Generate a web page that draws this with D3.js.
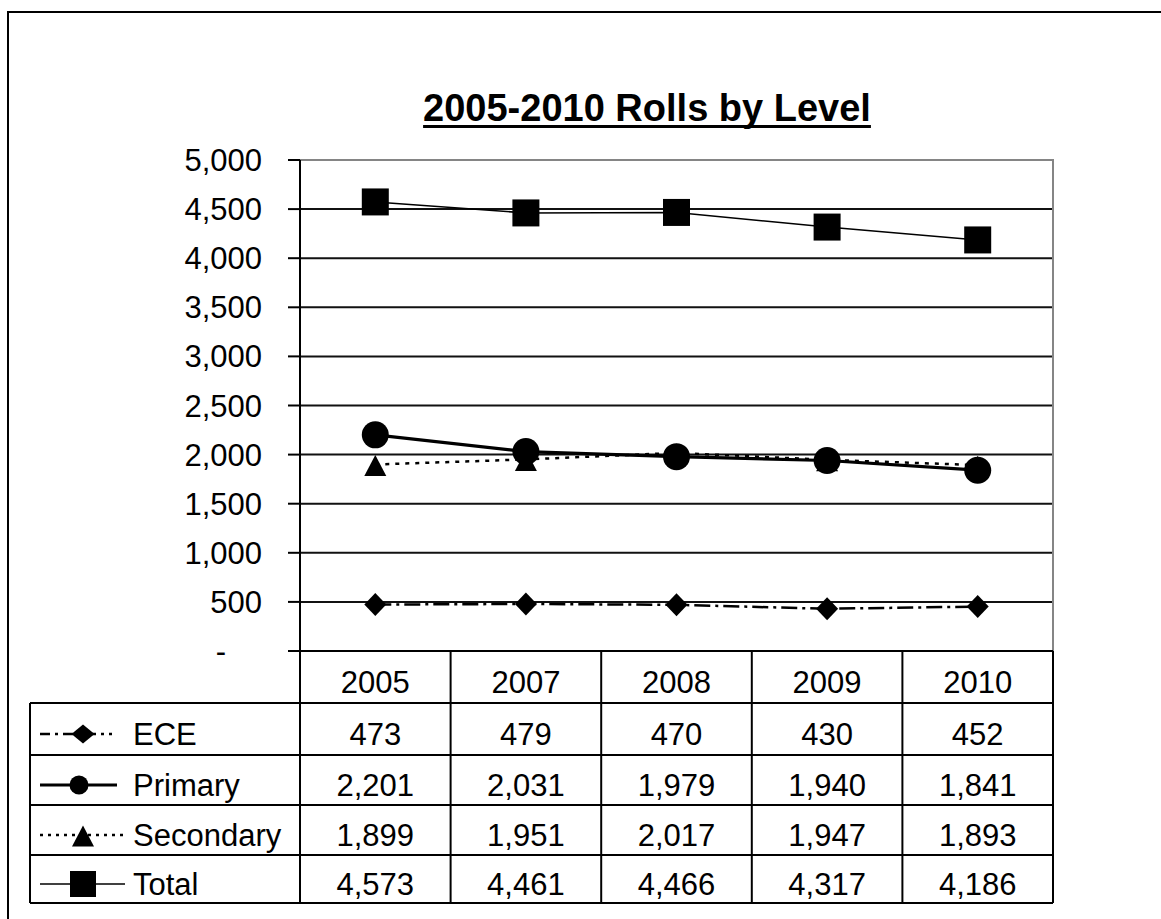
<!DOCTYPE html>
<html><head><meta charset="utf-8">
<script src="https://cdn.jsdelivr.net/npm/d3@7"></script>
<style>body{margin:0;background:#fff} svg{display:block}</style>
</head><body><svg id="c" width="1161" height="919"></svg>
<script>
// ---- data ----
const years = ["2005", "2007", "2008", "2009", "2010"];
const seriesNames = ["ECE", "Primary", "Secondary", "Total"];
const eceValues = [473, 479, 470, 430, 452];
const primaryValues = [2201, 2031, 1979, 1940, 1841];
const secondaryValues = [1899, 1951, 2017, 1947, 1893];
const totalValues = [4573, 4461, 4466, 4317, 4186];
const yTickValues = [0, 500, 1000, 1500, 2000, 2500, 3000, 3500, 4000, 4500, 5000];
const titleText = "2005-2010 Rolls by Level";

const seriesValues = [eceValues, primaryValues, secondaryValues, totalValues];

// ---- styles ----
const FONT = "'Liberation Sans', Arial, sans-serif";
const styles = {
  ECE:       {width: 2.5, dash: "16,5,3,5", keyDash: "10,5,3,5", marker: "diamond"},
  Primary:   {width: 3.2, dash: null, keyDash: null, marker: "circle"},
  Secondary: {width: 2.5, dash: "4,6", keyDash: "3,5", marker: "triangle"},
  Total:     {width: 1.6, dash: null, keyDash: null, marker: "square"}
};
const markerPlot = {diamond: [22, 23], circle: [27, 27], triangle: [22, 21], square: [27, 27]};
const markerKey  = {diamond: [23, 19], circle: [19, 19], triangle: [22, 21], square: [26, 26]};

function markerPath(kind, w, h) {
  const a = w / 2, b = h / 2;
  if (kind === "diamond") return `M0,${-b}L${a},0L0,${b}L${-a},0Z`;
  if (kind === "triangle") return `M0,${-h * 0.45}L${a},${h * 0.55}L${-a},${h * 0.55}Z`;
  if (kind === "square") return `M${-a},${-b}H${a}V${b}H${-a}Z`;
  return d3.symbol(d3.symbolCircle, Math.PI * a * a)();
}

// ---- layout ----
const plotL = 300, plotR = 1053, plotT = 160, plotB = 651, tableL = 30;
const rowBounds = [651, 703, 755, 805, 855, 903];

const svg = d3.select("#c");
const x = d3.scaleBand().domain(years).range([plotL, plotR]).padding(0);
const y = d3.scaleLinear().domain([0, 5000]).range([plotB, plotT]);
const cx = d => x(d) + x.bandwidth() / 2;

// outer frame
svg.append("path").attr("d", "M8,919V12H1161").attr("fill", "none")
  .attr("stroke", "#000").attr("stroke-width", 2);

// title
const title = svg.append("text").attr("x", 647).attr("y", 121)
  .attr("text-anchor", "middle").attr("font-family", FONT)
  .attr("font-weight", "bold").attr("font-size", 38).attr("fill", "#000")
  .text(titleText);
const tw = title.node().getComputedTextLength();
svg.append("rect").attr("x", 647 - tw / 2).attr("y", 125).attr("width", tw)
  .attr("height", 3).attr("fill", "#000");

// gridlines
svg.append("g").selectAll("line").data(yTickValues.filter(v => v > 0 && v < 5000)).join("line")
  .attr("x1", plotL).attr("x2", plotR).attr("y1", d => y(d)).attr("y2", d => y(d))
  .attr("stroke", "#111").attr("stroke-width", 2);

// plot border (top/right) gray
svg.append("path").attr("d", `M${plotL},${plotT}H${plotR}V${plotB}`).attr("fill", "none")
  .attr("stroke", "#858585").attr("stroke-width", 2);

// y axis ticks
svg.append("g").selectAll("line").data(yTickValues).join("line")
  .attr("x1", plotL - 12).attr("x2", plotL).attr("y1", d => y(d)).attr("y2", d => y(d))
  .attr("stroke", "#000").attr("stroke-width", 2);

// y labels
svg.append("g").selectAll("text").data(yTickValues).join("text")
  .attr("x", d => d === 0 ? 221 : 262).attr("y", d => y(d) + 11)
  .attr("text-anchor", d => d === 0 ? "middle" : "end")
  .attr("font-family", FONT).attr("font-size", 31).attr("fill", "#000")
  .text(d => d === 0 ? "-" : d3.format(",")(d));

// table lines
const tg = svg.append("g").attr("stroke", "#000").attr("stroke-width", 2);
tg.append("line").attr("x1", plotL - 12).attr("x2", plotR).attr("y1", rowBounds[0]).attr("y2", rowBounds[0]);
rowBounds.slice(1).forEach(r => tg.append("line").attr("x1", tableL).attr("x2", plotR).attr("y1", r).attr("y2", r));
const colBounds = years.map(d => x(d)).concat([plotR]);
colBounds.forEach((c, i) => tg.append("line").attr("x1", c).attr("x2", c)
  .attr("y1", i === 0 ? plotT : rowBounds[0]).attr("y2", rowBounds[5]));
tg.append("line").attr("x1", tableL).attr("x2", tableL).attr("y1", rowBounds[1]).attr("y2", rowBounds[5]);

const rowMid = i => (rowBounds[i] + rowBounds[i + 1]) / 2;

// header years
svg.append("g").selectAll("text").data(years).join("text")
  .attr("x", d => cx(d)).attr("y", rowMid(0) + 16).attr("text-anchor", "middle")
  .attr("font-family", FONT).attr("font-size", 31).attr("fill", "#000").text(d => d);

// series rows
seriesNames.forEach((name, si) => {
  const st = styles[name];
  const ry = rowMid(si + 1);
  const g = svg.append("g");
  g.selectAll("text").data(seriesValues[si]).join("text")
    .attr("x", (d, i) => cx(years[i])).attr("y", ry + 16).attr("text-anchor", "middle")
    .attr("font-family", FONT).attr("font-size", 31).attr("fill", "#000")
    .text(d => d3.format(",")(d));
  g.append("text").attr("x", 133).attr("y", ry + 16).attr("font-family", FONT)
    .attr("font-size", 31).attr("fill", "#000").text(name);
  const ky = ry + 5;
  const kl = g.append("line").attr("x1", 40).attr("x2", name === "ECE" ? 112 : (name === "Primary" ? 117 : 125))
    .attr("y1", ky).attr("y2", ky).attr("stroke", "#000").attr("stroke-width", st.width);
  if (st.keyDash) kl.attr("stroke-dasharray", st.keyDash);
  const km = markerKey[st.marker];
  g.append("path").attr("d", markerPath(st.marker, km[0], km[1]))
    .attr("transform", `translate(${name === "Primary" ? 79 : 83},${ky})`).attr("fill", "#000");
});

// plot series
const line = d3.line().x((d, i) => cx(years[i])).y(d => y(d));
seriesNames.forEach((name, si) => {
  const st = styles[name];
  const p = svg.append("path").datum(seriesValues[si]).attr("d", line)
    .attr("fill", "none").attr("stroke", "#000").attr("stroke-width", st.width);
  if (st.dash) p.attr("stroke-dasharray", st.dash);
});
seriesNames.forEach((name, si) => {
  const st = styles[name];
  const m = markerPlot[st.marker];
  svg.append("g").selectAll("path").data(seriesValues[si]).join("path")
    .attr("d", markerPath(st.marker, m[0], m[1]))
    .attr("transform", (d, i) => `translate(${cx(years[i])},${y(d)})`)
    .attr("fill", "#000");
});
</script></body></html>
